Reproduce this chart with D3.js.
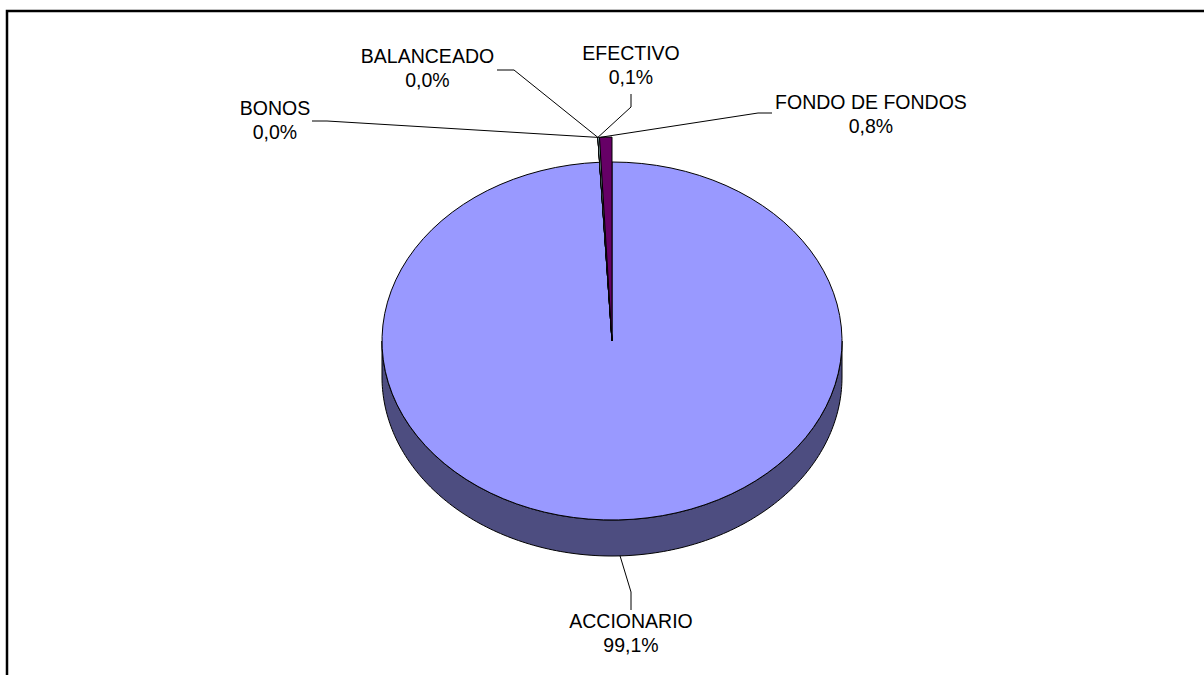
<!DOCTYPE html>
<html>
<head>
<meta charset="utf-8">
<script src="https://cdn.jsdelivr.net/npm/d3@7"></script>
<style>
    body { margin: 0; background: #fff; overflow: hidden; }
    text { font-family: "Liberation Sans", Arial, sans-serif; font-size: 19.5px; fill: #000; text-anchor: middle; }
</style>
</head>
<body>
<script>
// Values; the small ones are estimated a bit finer than their labels
var categories = ["ACCIONARIO", "BONOS", "BALANCEADO", "EFECTIVO", "FONDO DE FONDOS"];
var shares = [99.14, 0, 0, 0.1, 0.76];
var colors = ["#9999ff", "#993366", "#ffffcc", "#ccffff", "#660066"];
var wallColor = "#4d4d80";

window.onload = function() {
    drawChart();
};

function drawChart() {
    var svgWidth = 1204;
    var svgHeight = 675;

    // Ellipse of the tilted pie
    var cx = 612, cy = 341;
    var rx = 230, ry = 179;
    var depth = 36;
    var smallRx = 262;   // the small slices are pulled out past the rim

    var percent = d3.format(".1f");

    const svg = d3.select("body").append("svg")
        .attr("width", svgWidth)
        .attr("height", svgHeight);

    // Chart frame, runs off the right and bottom of the picture
    svg.append("rect")
        .attr("x", 7)
        .attr("y", 11)
        .attr("width", svgWidth + 100)
        .attr("height", svgHeight + 100)
        .attr("fill", "#fff")
        .attr("stroke", "#000")
        .attr("stroke-width", 2.5);

    var pie = d3.pie().sort(null).value(function(d) { return d; });
    var slices = pie(shares);

    function rimPoint(angle, radius) {
        return [cx + radius * Math.sin(angle), cy - radius * (ry / rx) * Math.cos(angle)];
    }

    // Side wall of the big slice, front half only
    var front = d3.range(90, 270.5, 1).map(function(deg) { return deg * Math.PI / 180; });
    var wall = d3.area()
        .x(function(a) { return rimPoint(a, rx)[0]; })
        .y0(function(a) { return rimPoint(a, rx)[1]; })
        .y1(function(a) { return rimPoint(a, rx)[1] + depth; });

    svg.append("path")
        .attr("d", wall(front))
        .attr("fill", wallColor)
        .attr("stroke", "#000")
        .attr("stroke-width", 1);

    // Top of the pie, a circle arc squashed into the ellipse
    var top = svg.append("g")
        .attr("transform", `translate(${cx}, ${cy}) scale(1, ${ry / rx})`);

    top.selectAll(".slice")
        .data(slices)
        .enter()
        .append("path")
        .attr("class", "slice")
        .attr("d", function(d, i) {
            return d3.arc().innerRadius(0).outerRadius(i === 0 ? rx : smallRx)(d);
        })
        .attr("fill", function(d, i) { return colors[i]; })
        .attr("stroke", "#000")
        .attr("stroke-width", 1)
        .attr("stroke-linejoin", "round")
        .attr("vector-effect", "non-scaling-stroke");

    // Label spots and leader bends, in the order of categories
    var labelLayout = [
        { x: 631, y: 628, end: [631, 610], bend: [631, 592] },
        { x: 275, y: 115, end: [312, 121], bend: [327, 121] },
        { x: 427.5, y: 63, end: [497, 70], bend: [514, 70] },
        { x: 631, y: 60, end: [631, 94], bend: [631, 107] },
        { x: 871, y: 109, end: [772, 113], bend: [758, 113] }
    ];

    var leader = d3.line();

    labelLayout.forEach(function(spot, i) {
        // Big slice leader starts on the wall, the others at the tip of the small slices
        var start = i === 0
            ? (function() {
                var p = rimPoint(Math.PI - 0.035, rx);
                return [p[0], p[1] + depth];
            })()
            : rimPoint(slices[1].startAngle + (i === 4 ? 0.01 : 0), smallRx);

        svg.append("path")
            .attr("d", leader([start, spot.bend, spot.end]))
            .attr("fill", "none")
            .attr("stroke", "#000")
            .attr("stroke-width", 1);

        var label = svg.append("text").attr("x", spot.x).attr("y", spot.y);
        label.append("tspan").text(categories[i]);
        label.append("tspan")
            .attr("x", spot.x)
            .attr("dy", 24)
            .text(percent(shares[i]).replace(".", ",") + "%");
    });
}
</script>
</body>
</html>
